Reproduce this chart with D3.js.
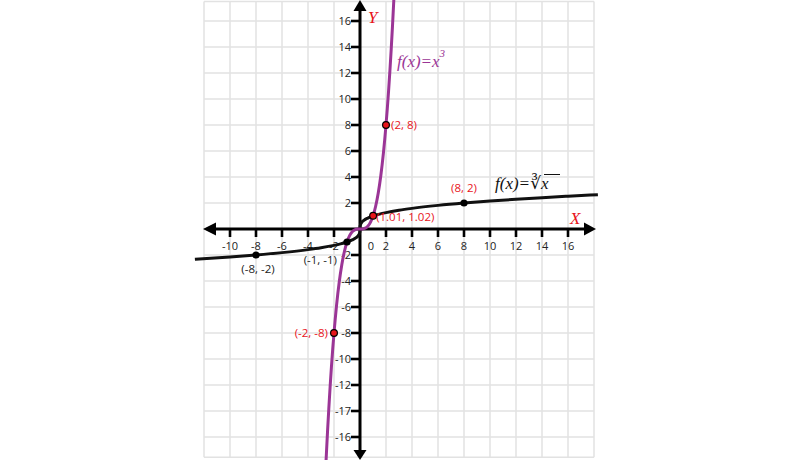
<!DOCTYPE html>
<html><head><meta charset="utf-8">
<script src="https://cdn.jsdelivr.net/npm/d3@7"></script>
<style>html,body{margin:0;padding:0;background:#fff;} svg{display:block;}</style>
</head><body>
<svg id="c" width="800" height="460"></svg>
<script>
// ---- data ----
const xTicks = [-10,-8,-6,-4,-2,2,4,6,8,10,12,14,16];
const xTickLabels = ["-10","-8","-6","-4","-2","2","4","6","8","10","12","14","16"];
const yTicks = [16,14,12,10,8,6,4,2,-2,-4,-6,-8,-10,-12,-14,-16];
const yTickLabels = ["16","14","12","10","8","6","4","2","-2","-4","-6","-8","-10","-12","-17","-16"];
const gridX = [-12,-10,-8,-6,-4,-2,0,2,4,6,8,10,12,14,16,18];
const gridY = [-16,-14,-12,-10,-8,-6,-4,-2,0,2,4,6,8,10,12,14,16];

// f(x)=x^3 samples
const cubeX = [-2.62,-2.5,-2.4,-2.3,-2.2,-2.1,-2,-1.8,-1.6,-1.4,-1.2,-1,-0.8,-0.6,-0.4,-0.2,0,0.2,0.4,0.6,0.8,1,1.2,1.4,1.6,1.8,2,2.1,2.2,2.3,2.4,2.5,2.62];
const cubeY = [-17.985,-15.625,-13.824,-12.167,-10.648,-9.261,-8,-5.832,-4.096,-2.744,-1.728,-1,-0.512,-0.216,-0.064,-0.008,0,0.008,0.064,0.216,0.512,1,1.728,2.744,4.096,5.832,8,9.261,10.648,12.167,13.824,15.625,17.985];
// f(x)=cbrt(x) samples
const rootX = [-12.7,-10,-8,-6,-4,-3,-2,-1.5,-1,-0.6,-0.3,-0.1,-0.02,-0.003,0,0.003,0.02,0.1,0.3,0.6,1,1.5,2,3,4,6,8,10,12,14,16,18.3];
const rootY = [-2.333,-2.154,-2,-1.817,-1.587,-1.442,-1.26,-1.145,-1,-0.843,-0.669,-0.464,-0.271,-0.144,0,0.144,0.271,0.464,0.669,0.843,1,1.145,1.26,1.442,1.587,1.817,2,2.154,2.289,2.41,2.52,2.636];

const redPts = [[2,8],[-2,-8],[1.01,1.02]];
const redLabels = ["(2, 8)","(-2, -8)","(1.01, 1.02)"];
const blackPts = [[8,2],[-8,-2],[-1,-1]];
const blackLabels = ["(8, 2)","(-8, -2)","(-1, -1)"];

// ---- scales ----
const svg = d3.select("#c");
const x = d3.scaleLinear().domain([-12,18]).range([204,594]);
const y = d3.scaleLinear().domain([-17.6,17.6]).range([457.8,0.2]);

// grid
const grid = svg.append("g").attr("stroke","#e2e2e2").attr("stroke-width",1.5).attr("fill","none");
grid.selectAll("line.v").data(gridX).join("line").attr("class","v")
  .attr("x1",d=>x(d)).attr("x2",d=>x(d)).attr("y1",y(17.5)).attr("y2",y(-17.55));
grid.selectAll("line.h").data(gridY.concat([17.5,-17.55])).join("line").attr("class","h")
  .attr("x1",x(-12)).attr("x2",x(18)).attr("y1",d=>y(d)).attr("y2",d=>y(d));

// tick labels
const font = "'Open Sans', 'Liberation Sans', sans-serif";
svg.append("g").selectAll("text").data(xTicks).join("text")
  .attr("x",d=>x(d)).attr("y",y(0)+21).attr("text-anchor","middle")
  .attr("font-family",font).attr("font-size",11).attr("fill","#222")
  .text((d,i)=>xTickLabels[i]);
svg.append("text").attr("x",x(0)+11).attr("y",y(0)+21).attr("text-anchor","middle")
  .attr("font-family",font).attr("font-size",11).attr("fill","#222").text("0");
svg.append("g").selectAll("text").data(yTicks).join("text")
  .attr("x",x(0)-9).attr("y",d=>y(d)+4).attr("text-anchor","end")
  .attr("font-family",font).attr("font-size",11).attr("fill","#222")
  .text((d,i)=>yTickLabels[i]);

// ticks
const tk = svg.append("g").attr("stroke","#000").attr("stroke-width",2.6);
tk.selectAll("line.x").data(xTicks).join("line").attr("class","x")
  .attr("x1",d=>x(d)).attr("x2",d=>x(d)).attr("y1",y(0)).attr("y2",y(0)+8);
tk.selectAll("line.y").data(yTicks).join("line").attr("class","y")
  .attr("x1",x(0)-9).attr("x2",x(0)).attr("y1",d=>y(d)).attr("y2",d=>y(d));

// axes
const ax = svg.append("g");
ax.append("line").attr("x1",x(-12)+10).attr("x2",x(18)-8).attr("y1",y(0)).attr("y2",y(0))
  .attr("stroke","#000").attr("stroke-width",3);
ax.append("line").attr("x1",x(0)).attr("x2",x(0)).attr("y1",8).attr("y2",452)
  .attr("stroke","#000").attr("stroke-width",3);
const X0 = x(0), Y0 = y(0);
ax.append("path").attr("d",`M${x(-12)-1},${Y0} L${x(-12)+12},${Y0-6.5} L${x(-12)+12},${Y0+6.5} Z`).attr("fill","#000");
ax.append("path").attr("d",`M${x(18)+2},${Y0} L${x(18)-10},${Y0-6.5} L${x(18)-10},${Y0+6.5} Z`).attr("fill","#000");
ax.append("path").attr("d",`M${X0},0 L${X0-6.5},11 L${X0+6.5},11 Z`).attr("fill","#000");
ax.append("path").attr("d",`M${X0},460 L${X0-6.5},450 L${X0+6.5},450 Z`).attr("fill","#000");

// curves
const ln = d3.line().x(d=>x(d[0])).y(d=>y(d[1])).curve(d3.curveMonotoneX);
svg.append("path").datum(rootX.map((v,i)=>[v,rootY[i]])).attr("d",ln)
  .attr("fill","none").attr("stroke","#111").attr("stroke-width",3);
svg.append("path").datum(cubeX.map((v,i)=>[v,cubeY[i]])).attr("d",ln)
  .attr("fill","none").attr("stroke","#9b3596").attr("stroke-width",3);

// points
svg.append("g").selectAll("circle").data(blackPts).join("circle")
  .attr("cx",d=>x(d[0])).attr("cy",d=>y(d[1])).attr("r",3.6).attr("fill","#000");
svg.append("g").selectAll("circle").data(redPts).join("circle")
  .attr("cx",d=>x(d[0])).attr("cy",d=>y(d[1])).attr("r",3.4).attr("fill","#e8141b")
  .attr("stroke","#000").attr("stroke-width",1.2);

// point labels
const redPos = [[5,4,"start"],[-6,4,"end"],[3,5,"start"]];
svg.append("g").selectAll("text").data(redPts).join("text")
  .attr("x",(d,i)=>x(d[0])+redPos[i][0]).attr("y",(d,i)=>y(d[1])+redPos[i][1])
  .attr("text-anchor",(d,i)=>redPos[i][2])
  .attr("font-family",font).attr("font-size",11.5).attr("fill","#e8141b")
  .text((d,i)=>redLabels[i]);
const blkPos = [[0,-11,"middle","#e8141b"],[2,18,"middle","#222"],[-10,22,"end","#222"]];
svg.append("g").selectAll("text").data(blackPts).join("text")
  .attr("x",(d,i)=>x(d[0])+blkPos[i][0]).attr("y",(d,i)=>y(d[1])+blkPos[i][1])
  .attr("text-anchor",(d,i)=>blkPos[i][2])
  .attr("font-family",font).attr("font-size",11.5).attr("fill",(d,i)=>blkPos[i][3])
  .text((d,i)=>blackLabels[i]);

// formula labels
const serif = "'Liberation Serif','DejaVu Serif',serif";
const f1 = svg.append("text").attr("x",397).attr("y",67).attr("font-family",serif)
  .attr("font-style","italic").attr("font-size",17).attr("fill","#9b3596");
f1.append("tspan").text("f(x)=x");
f1.append("tspan").attr("dy",-10).attr("font-size",11).text("3");

const f2 = svg.append("text").attr("x",495).attr("y",189).attr("font-family",serif)
  .attr("font-style","italic").attr("font-size",17).attr("fill","#111");
f2.append("tspan").text("f(x)=");
f2.append("tspan").attr("font-style","normal").text("∛");
f2.append("tspan").text("x");
svg.append("line").attr("x1",544).attr("x2",560).attr("y1",174.5).attr("y2",174.5)
  .attr("stroke","#111").attr("stroke-width",1);

// axis names
svg.append("text").attr("x",570).attr("y",224).attr("font-family",serif).attr("font-style","italic")
  .attr("font-size",17).attr("fill","#e8141b").text("X");
svg.append("text").attr("x",368).attr("y",23).attr("font-family",serif).attr("font-style","italic")
  .attr("font-size",17).attr("fill","#e8141b").text("Y");
</script>
</body></html>
